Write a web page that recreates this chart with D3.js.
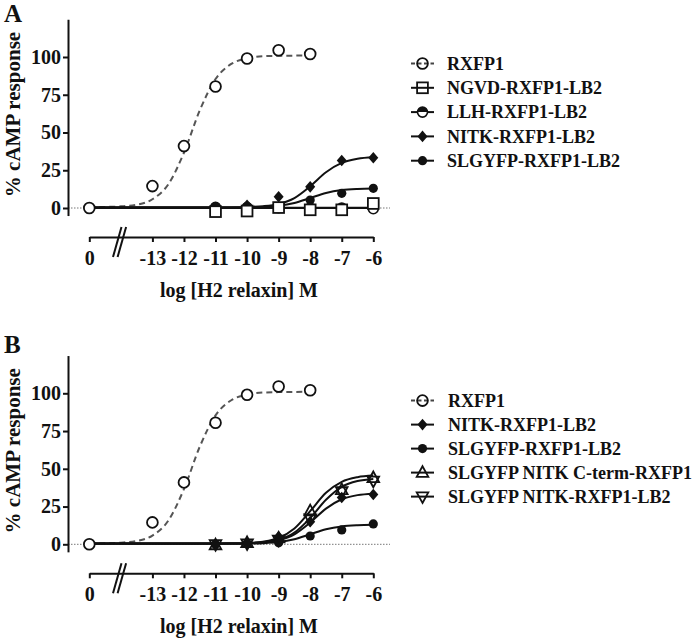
<!DOCTYPE html>
<html>
<head>
<meta charset="utf-8">
<script src="https://cdn.jsdelivr.net/npm/d3@7"></script>
<style>
  html, body { margin: 0; padding: 0; background: #fff; }
  svg { display: block; }
  text { font-family: "Liberation Serif", "Times New Roman", serif; font-weight: bold; fill: #111; }
</style>
</head>
<body>
<svg id="chart" width="693" height="639"></svg>
<script>
// ---------------- DATA ----------------
// x position of the zero-dose point on the log axis (drawn as "0")
const xTickValues = [-15, -13, -12, -11, -10, -9, -8, -7, -6];
const xTickLabels = ["0", "-13", "-12", "-11", "-10", "-9", "-8", "-7", "-6"];
const yTickValues = [0, 25, 50, 75, 100];

// measured points
const rxfp1X = [-15, -13, -12, -11, -10, -9, -8];
const rxfp1Y = [0, 14.5, 41, 80.5, 99, 104.5, 102];

const doseX = [-11, -10, -9, -8, -7, -6];
const ngvdY_A   = [-2.4, -2, 0.3, -1.2, -1.2, 3];
const llhY_A    = [0.5, 0.3, 0.2, 0, 0, -0.5];
const nitkY_A   = [0.3, 1.8, 7.5, 14, 31.5, 33.3];
const slgyfpY_A = [0, 0.3, 0.5, 5.3, 9.7, 13];

const nitkY_B    = [0, 1, 5, 15, 31, 33];
const slgyfpY_B  = [0, 0.5, 1, 5.5, 9.5, 13.5];
const ctermY_B   = [-0.5, 1, 4, 22, 36, 44];
const slgNitkY_B = [0, 0.5, 3, 17, 35, 42];

const curveX = [-15, -14.5, -14, -13.5, -13, -12.5, -12, -11.5, -11, -10.5, -10, -9.5, -9, -8.5, -8, -7.5, -7, -6.5, -6];
const rxfp1Curve  = [0.5, 0.7, 1.1, 2.2, 5.8, 15.6, 36.6, 64.6, 85.4, 95.4, 99.1, 100.5, 100.8, 100.9, 101];
const ngvdCurve   = [0.2, 0.2, 0.2, 0.2, 0.2, 0.2, 0.2, 0.2, 0.2, 0.2, 0.2, 0.2, 0.2, 0.2, 0.2, 0.2, 0.2, 0.2, 0.2];
const llhCurve    = [0, 0, 0, 0, 0, 0, 0, 0, 0, 0, 0, 0, 0, 0, 0, 0, 0, 0, 0];
const nitkCurve   = [0.5, 0.5, 0.5, 0.5, 0.5, 0.5, 0.5, 0.5, 0.52, 0.57, 0.74, 1.23, 2.72, 6.62, 14.4, 23.65, 29.86, 32.57, 33.53];
const slgyfpCurve = [0.3, 0.3, 0.3, 0.3, 0.3, 0.3, 0.3, 0.3, 0.32, 0.34, 0.43, 0.69, 1.45, 3.35, 6.65, 9.95, 11.85, 12.61, 12.87];
const ctermCurve  = [0.5, 0.5, 0.5, 0.5, 0.5, 0.5, 0.5, 0.52, 0.54, 0.63, 0.9, 1.75, 4.23, 10.5, 21.96, 34.1, 41.4, 44.44, 45.5];
const slgNitkCurve= [0.5, 0.5, 0.5, 0.5, 0.5, 0.5, 0.5, 0.51, 0.53, 0.59, 0.77, 1.35, 3.08, 7.74, 17.33, 29.48, 38.06, 41.92, 43.32];

const legendA = ["RXFP1", "NGVD-RXFP1-LB2", "LLH-RXFP1-LB2", "NITK-RXFP1-LB2", "SLGYFP-RXFP1-LB2"];
const legendB = ["RXFP1", "NITK-RXFP1-LB2", "SLGYFP-RXFP1-LB2", "SLGYFP NITK C-term-RXFP1", "SLGYFP NITK-RXFP1-LB2"];

// ---------------- DRAWING ----------------
const svg = d3.select("#chart");

const x = d3.scaleLinear().domain([-15, -6]).range([89.3, 373.3]);

function marker(g, type, cx, cy, legend) {
  const s = g.append("g").attr("transform", `translate(${cx},${cy})`);
  const sw = 1.8;
  const openFill = legend ? "none" : "#fff";
  if (type === "openCircle") {
    s.append("circle").attr("r", 5.4).attr("fill", openFill).attr("stroke", "#111").attr("stroke-width", sw);
  } else if (type === "openSquare") {
    s.append("rect").attr("x", -5.4).attr("y", -5.4).attr("width", 10.8).attr("height", 10.8)
      .attr("fill", openFill).attr("stroke", "#111").attr("stroke-width", sw);
  } else if (type === "halfCircle") {
    s.append("circle").attr("r", 5).attr("fill", "#fff").attr("stroke", "#111").attr("stroke-width", 1.6);
    s.append("path").attr("d", "M-5,0A5,5 0 0 1 5,0Z").attr("fill", "#111");
  } else if (type === "diamond") {
    s.append("path").attr("d", "M0,-5.8L5,0L0,5.8L-5,0Z").attr("fill", "#111");
  } else if (type === "dot") {
    s.append("circle").attr("r", 4.6).attr("fill", "#111");
  } else if (type === "triUp") {
    s.append("path").attr("d", "M0,-6.4L5.8,4.2L-5.8,4.2Z").attr("fill", "none").attr("stroke", "#111").attr("stroke-width", sw);
  } else if (type === "triDown") {
    s.append("path").attr("d", "M0,6.4L5.8,-4.2L-5.8,-4.2Z").attr("fill", "none").attr("stroke", "#111").attr("stroke-width", sw);
  }
}

function drawPanel(cfg) {
  const y = d3.scaleLinear().domain([-5, 125]).range([cfg.y0 + 7.55, cfg.y0 - 188.75]);
  const g = svg.append("g");
  const axisY = cfg.y0 + 29;

  // panel letter
  g.append("text").attr("x", 4).attr("y", cfg.letterY).attr("font-size", 25).text(cfg.letter);

  // dotted baseline
  g.append("line").attr("x1", 68).attr("x2", 390).attr("y1", y(0)).attr("y2", y(0))
    .attr("stroke", "#777").attr("stroke-width", 1).attr("stroke-dasharray", "1.5,1.5");

  // y axis
  const yAxis = g.append("g").attr("transform", "translate(68,0)")
    .call(d3.axisLeft(y).tickValues(yTickValues).tickSize(5).tickSizeOuter(0).tickPadding(2));
  yAxis.select(".domain").attr("stroke", "#111").attr("stroke-width", 2);
  yAxis.selectAll(".tick line").attr("stroke", "#111").attr("stroke-width", 2);
  yAxis.selectAll(".tick text").attr("font-size", 20).attr("font-family", "Liberation Serif, serif")
    .attr("font-weight", "bold").attr("fill", "#111");

  // x axis
  const xAxis = g.append("g").attr("transform", `translate(0,${axisY})`)
    .call(d3.axisBottom(x).tickValues(xTickValues).tickSize(5).tickSizeOuter(0).tickPadding(9)
      .tickFormat((d, i) => xTickLabels[i]));
  xAxis.select(".domain").attr("stroke", "#111").attr("stroke-width", 2);
  xAxis.selectAll(".tick line").attr("stroke", "#111").attr("stroke-width", 2);
  xAxis.selectAll(".tick text").attr("font-size", 20).attr("font-family", "Liberation Serif, serif")
    .attr("font-weight", "bold").attr("fill", "#111");

  // axis break //
  [0, 4.6].forEach(off => {
    g.append("line").attr("x1", 113 + off).attr("y1", axisY + 20).attr("x2", 121.5 + off).attr("y2", axisY - 10)
      .attr("stroke", "#111").attr("stroke-width", 2);
  });

  // titles
  g.append("text").attr("x", 239).attr("y", cfg.y0 + 89).attr("text-anchor", "middle")
    .attr("font-size", 20).text("log [H2 relaxin] M");
  g.append("text").attr("transform", `translate(19.5,${cfg.y0 - 93.5}) rotate(-90)`)
    .attr("text-anchor", "middle").attr("font-size", 21).text("% cAMP response");

  const line = d3.line().x(d => x(d[0])).y(d => y(d[1])).curve(d3.curveMonotoneX);

  // curves
  cfg.series.forEach(s => {
    const pts = s.curve.map((v, i) => [curveX[i], v]);
    g.append("path").attr("d", line(pts)).attr("fill", "none")
      .attr("stroke", s.dashed ? "#555" : "#111").attr("stroke-width", 2)
      .attr("stroke-dasharray", s.dashed ? "6,4" : null);
  });
  // markers (last series underneath, first series on top)
  cfg.series.slice().reverse().forEach(s => {
    s.px.forEach((px, i) => marker(g, s.marker, x(px), y(s.py[i]), false));
  });

  // legend
  cfg.series.forEach((s, i) => {
    const ly = cfg.legendY + i * cfg.legendStep;
    g.append("line").attr("x1", 411).attr("x2", 434).attr("y1", ly).attr("y2", ly)
      .attr("stroke", s.dashed ? "#444" : "#111").attr("stroke-width", 2)
      .attr("stroke-dasharray", s.dashed ? "4,2.5" : null);
    marker(g, s.marker, 422.5, ly, true);
    g.append("text").attr("x", cfg.legendX).attr("y", ly).attr("dy", "0.35em")
      .attr("font-size", 18).text(s.name);
  });
}

drawPanel({
  letter: "A", letterY: 22, y0: 208,
  legendY: 63.5, legendStep: 24.3, legendX: 447,
  series: [
    { name: legendA[0], marker: "openCircle", dashed: true, curve: rxfp1Curve, px: rxfp1X, py: rxfp1Y },
    { name: legendA[1], marker: "openSquare", curve: ngvdCurve, px: doseX, py: ngvdY_A },
    { name: legendA[2], marker: "halfCircle", curve: llhCurve, px: doseX, py: llhY_A },
    { name: legendA[3], marker: "diamond", curve: nitkCurve, px: doseX, py: nitkY_A },
    { name: legendA[4], marker: "dot", curve: slgyfpCurve, px: doseX, py: slgyfpY_A }
  ]
});

drawPanel({
  letter: "B", letterY: 353, y0: 544.3,
  legendY: 400.6, legendStep: 24, legendX: 448,
  series: [
    { name: legendB[0], marker: "openCircle", dashed: true, curve: rxfp1Curve, px: rxfp1X, py: rxfp1Y },
    { name: legendB[1], marker: "diamond", curve: nitkCurve, px: doseX, py: nitkY_B },
    { name: legendB[2], marker: "dot", curve: slgyfpCurve, px: doseX, py: slgyfpY_B },
    { name: legendB[3], marker: "triUp", curve: ctermCurve, px: doseX, py: ctermY_B },
    { name: legendB[4], marker: "triDown", curve: slgNitkCurve, px: doseX, py: slgNitkY_B }
  ]
});
</script>
</body>
</html>
